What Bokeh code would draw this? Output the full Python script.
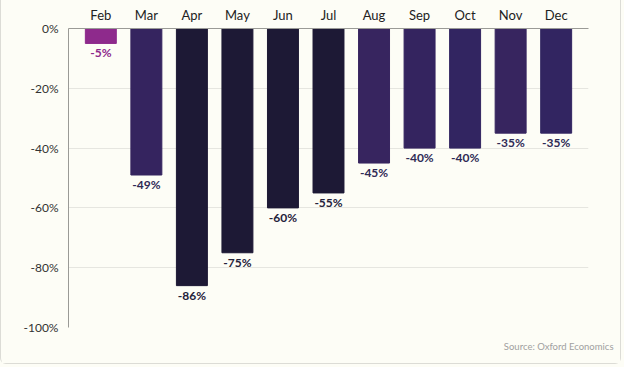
from bokeh.plotting import figure
from bokeh.models import ColumnDataSource, FactorRange, FixedTicker, PrintfTickFormatter, Title
from bokeh.core.properties import value
from bokeh.embed import file_html
from bokeh.resources import INLINE

months = ["Feb", "Mar", "Apr", "May", "Jun", "Jul", "Aug", "Sep", "Oct", "Nov", "Dec"]
changes = [-5, -49, -86, -75, -60, -55, -45, -40, -40, -35, -35]
bar_colors = ["#8E2A8C", "#35245F", "#1D1935", "#1D1935", "#1D1935", "#1D1935",
              "#37255F", "#34245F", "#322561", "#37255F", "#322561"]
label_colors = ["#8E2A8C", "#2F2A55", "#24223A", "#24223A", "#24223A", "#24223A",
                "#2F2A55", "#2F2A55", "#2F2A55", "#2F2A55", "#2F2A55"]
y_ticks = [0, -20, -40, -60, -80, -100]
source_note = "Source: Oxford Economics"

BG = "#FDFDF6"
FONT = "Lato"

src = ColumnDataSource(dict(
    month=months, change=changes, color=bar_colors, lcolor=label_colors,
    label=[f"{v}%" for v in changes],
))

p = figure(
    width=621, height=364,
    x_range=FactorRange(factors=months, range_padding=0.21, range_padding_units="absolute"),
    y_range=(-100, 0),
    x_axis_location="above",
    output_backend="svg", toolbar_location=None,
    min_border_left=67, min_border_right=34, min_border_top=28, min_border_bottom=37,
)
p.background_fill_color = BG
p.border_fill_color = BG
p.outline_line_color = None

p.vbar(x="month", top=0, bottom="change", width=0.68, color="color", source=src)
p.text(x="month", y="change", text="label", text_color="lcolor", source=src,
       text_align="center", text_baseline="top", y_offset=2,
       text_font=value(FONT), text_font_size="12px", text_font_style="bold")

# y axis
ya = p.yaxis[0]
ya.ticker = FixedTicker(ticks=y_ticks)
ya.formatter = PrintfTickFormatter(format="%d%%")
ya.major_tick_line_color = None
ya.minor_tick_line_color = None
ya.axis_line_color = "#9A9A96"
ya.major_label_standoff = 4
ya.major_label_text_font = FONT
ya.major_label_text_font_size = "12px"
ya.major_label_text_color = "#333333"

# x axis (top)
xa = p.xaxis[0]
xa.major_tick_line_color = None
xa.minor_tick_line_color = None
xa.axis_line_color = "#9A9A96"
xa.major_label_standoff = 0
xa.major_label_text_font = FONT
xa.major_label_text_font_size = "13px"
xa.major_label_text_color = "#222222"

p.xgrid.grid_line_color = None
p.ygrid.ticker = FixedTicker(ticks=y_ticks)
p.ygrid.grid_line_color = "#E6E6E0"

p.add_layout(Title(text=source_note, align="right", offset=-25, standoff=23,
                   text_line_height=0.4,
                   text_font=FONT, text_font_size="9.5px", text_font_style="normal",
                   text_color="#A0A0A0"), "below")

p.styles = {"border-left": "1px solid #DCDCD6", "border-right": "1px solid #DCDCD6",
            "border-bottom": "1px solid #DCDCD6", "border-bottom-left-radius": "6px",
            "border-bottom-right-radius": "6px", "box-sizing": "border-box"}

html = file_html(p, INLINE)
html = html.replace("</head>", f"<style>html, body {{ background: {BG}; }}</style></head>", 1)
open("out.html", "w").write(html)
